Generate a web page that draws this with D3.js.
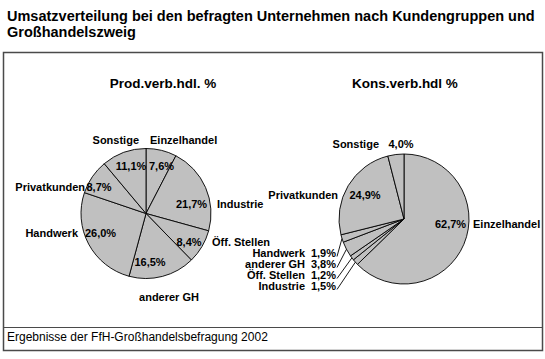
<!DOCTYPE html>
<html><head><meta charset="utf-8">
<script src="https://cdn.jsdelivr.net/npm/d3@7"></script>
<style>
body{margin:0;background:#fff}
svg{display:block}
text{font-family:"Liberation Sans",Arial,sans-serif;fill:#000}
</style>
</head><body>
<svg id="c" width="545" height="359"></svg>
<script>
// ---- data ----
const categories = ["Einzelhandel","Industrie","Öff. Stellen","anderer GH","Handwerk","Privatkunden","Sonstige"];
const valuesProd = [7.6, 21.7, 8.4, 16.5, 26.0, 8.7, 11.1];
const valuesKons = [62.7, 1.5, 1.2, 3.8, 1.9, 24.9, 4.0];
const chartTitles = ["Prod.verb.hdl. %", "Kons.verb.hdl %"];
const titleLines = ["Umsatzverteilung bei den befragten Unternehmen nach Kundengruppen und", "Großhandelszweig"];
const footerText = "Ergebnisse der FfH-Großhandelsbefragung 2002";

// ---- layout (label offsets relative to pie centre) ----
const layoutProd = {
  cx: 146, cy: 213.5, r: 65, titleX: 163,
  pct: [[15.5,-47.5,"middle"],[45.5,-9.5,"middle"],[43,28.5,"middle"],[4,48.5,"middle"],[-45.5,19.5,"middle"],[-47,-26.5,"middle"],[-15,-47.5,"middle"]],
  name: [[4,-73.5,"start"],[71,-9.5,"start"],[66,28.5,"start"],[23,83.5,"middle"],[-68,19.5,"end"],[-61,-26.5,"end"],[-7,-73.5,"end"]],
  leader: [false,false,false,false,false,false,false]
};
const layoutKons = {
  cx: 404, cy: 219, r: 65, titleX: 405,
  pct: [[46.5,5,"middle"],[-68,66.5,"end"],[-68,55.5,"end"],[-68,44.5,"end"],[-68,33.5,"end"],[-39,-24,"middle"],[-3,-75,"middle"]],
  name: [[69,5,"start"],[-99,66.5,"end"],[-99,55.5,"end"],[-99,44.5,"end"],[-99,33.5,"end"],[-66,-24,"end"],[-25,-75,"end"]],
  leader: [false,true,true,true,true,false,false]
};

const svg = d3.select("#c");
const fmt = v => d3.format(".1f")(v).replace(".", ",") + "%";

// title
svg.selectAll("text.title").data(titleLines).join("text")
  .attr("class","title")
  .attr("x", 7).attr("y", (d,i) => 20.5 + i*16)
  .style("font-size","14.5px").style("font-weight","bold")
  .text(d => d);

// frame
svg.append("rect").attr("x",3.5).attr("y",52.5).attr("width",539).attr("height",298)
  .attr("fill","none").attr("stroke","#4a4a4a").attr("stroke-width",1.5);
svg.append("line").attr("x1",3.5).attr("x2",542.5).attr("y1",327.5).attr("y2",327.5)
  .attr("stroke","#4a4a4a").attr("stroke-width",1.2);
svg.append("text").attr("x",7).attr("y",341)
  .style("font-size","12px").text(footerText);

function drawPie(values, layout, title) {
  const g = svg.append("g").attr("transform", `translate(${layout.cx},${layout.cy})`);
  const pie = d3.pie().sort(null).value(d => d)(values);
  const arc = d3.arc().innerRadius(0).outerRadius(layout.r);
  g.selectAll("path").data(pie).join("path")
    .attr("d", arc).attr("fill","#c0c0c0")
    .attr("stroke","#000").attr("stroke-width",0.9);

  svg.append("text").attr("x", layout.titleX).attr("y", 88)
    .attr("text-anchor","middle")
    .style("font-size","13.5px").style("font-weight","bold").text(title);

  pie.forEach((p, i) => {
    const [px, py, pa] = layout.pct[i];
    const [nx, ny, na] = layout.name[i];
    g.append("text").attr("x", px).attr("y", py + 4).attr("text-anchor", pa)
      .style("font-size","11px").style("font-weight","bold").text(fmt(values[i]));
    g.append("text").attr("x", nx).attr("y", ny + 4).attr("text-anchor", na)
      .style("font-size","11px").style("font-weight","bold").text(categories[i]);
    if (layout.leader[i]) {
      const mid = (p.startAngle + p.endAngle) / 2;
      const ex = Math.sin(mid) * layout.r, ey = -Math.cos(mid) * layout.r;
      g.append("line").attr("x1", px + 1).attr("y1", py + 4)
        .attr("x2", ex).attr("y2", ey)
        .attr("stroke","#000").attr("stroke-width",0.9);
    }
  });
}

drawPie(valuesProd, layoutProd, chartTitles[0]);
drawPie(valuesKons, layoutKons, chartTitles[1]);
</script>
</body></html>
